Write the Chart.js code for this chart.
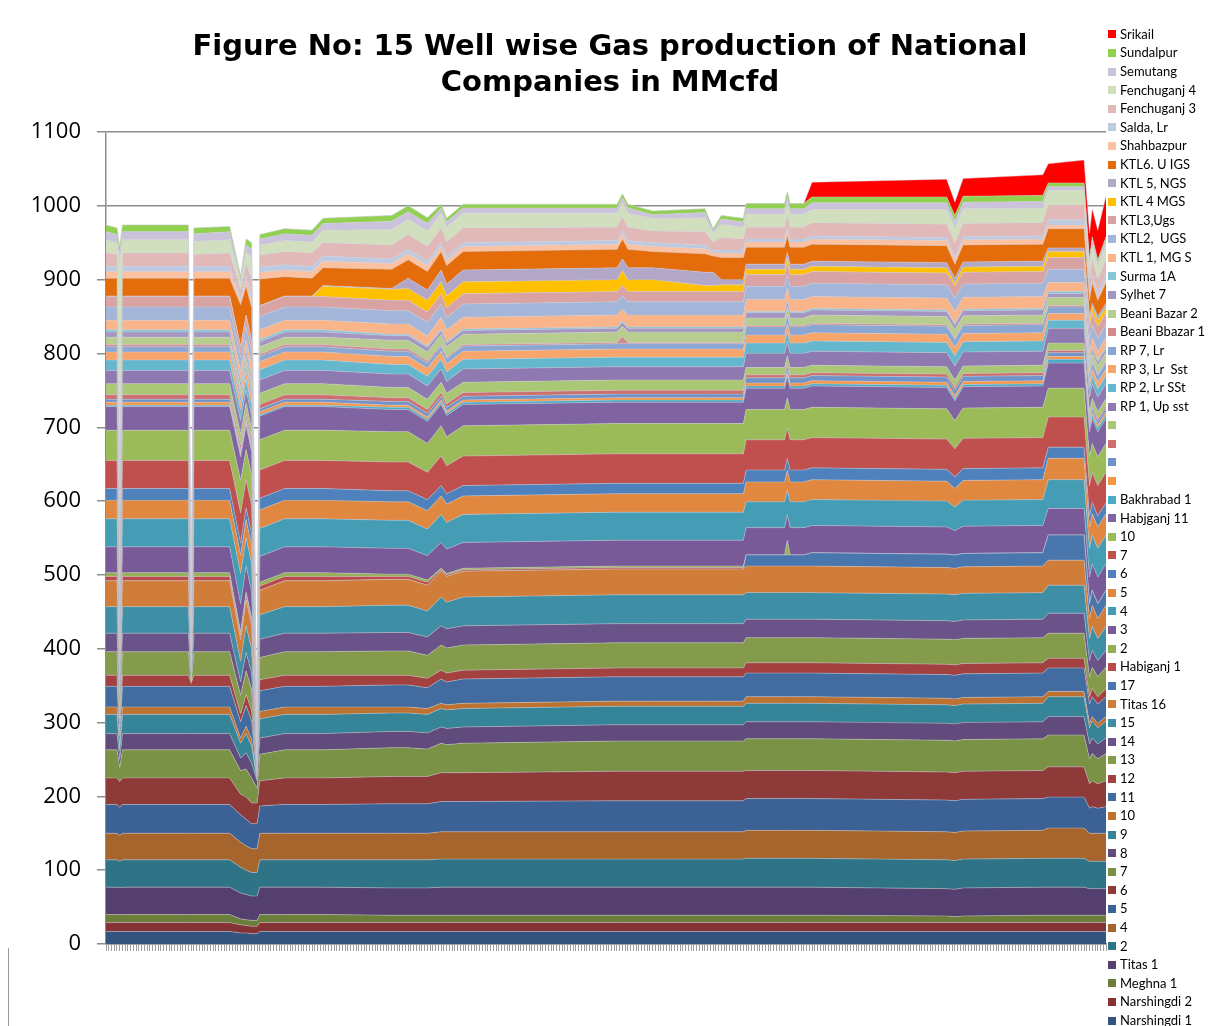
<!DOCTYPE html>
<html>
<head>
<meta charset="utf-8">
<script src="https://cdn.jsdelivr.net/npm/chart.js@4.4.1/dist/chart.umd.min.js"></script>
<style>
html,body{margin:0;padding:0;background:#fff;overflow:hidden;}
#wrap{position:relative;width:1210px;height:1026px;overflow:hidden;background:#fff;}
#chart{position:absolute;left:0;top:0;}
#title{position:absolute;left:0;top:27px;width:1220px;text-align:center;font-family:"DejaVu Sans",Verdana,sans-serif;font-weight:bold;font-size:29px;line-height:36px;color:#000;}
#legend{position:absolute;left:1108px;top:24.7px;font-family:Lato,"Liberation Sans",sans-serif;font-size:13px;color:#000;}
.li{height:18.62px;line-height:18.62px;white-space:pre;}
.sw{display:inline-block;width:8px;height:8px;margin-right:4px;vertical-align:middle;position:relative;top:-1px;}
#frame{position:absolute;left:8px;top:948px;width:1px;height:78px;background:#9a9a9a;}
</style>
</head>
<body>
<div id="wrap">
<canvas id="chart" width="1210" height="1026"></canvas>
<div id="title">Figure No: 15 Well wise Gas production of National<br>Companies in MMcfd</div>
<div id="legend"></div>
<div id="frame"></div>
</div>
<script>
// Sample days (x positions along a 365-day axis)
const DAYS = [0,4,5,6,30,31,32,45,49,51,53,55,56,65,75,79,104,110,117,122,124,130,186,188,190,199,218,221,224,232,233,247,248,249,254,257,306,309,312,341,343,356,358,359,361,364];
const Y_TICKS = [0,100,200,300,400,500,600,700,800,900,1000,1100];

// Series names, stack order bottom -> top
const NAMES = ["Narshingdi 1","Narshingdi 2","Meghna 1","Titas 1","2","4","5","6","7","8","9","10","11","12","13","14","15","Titas 16","17","Habiganj 1","2","3","4","5","6","7","10","Habjganj 11","Bakhrabad 1","","","","","RP 1, Up sst","RP 2, Lr SSt","RP 3, Lr  Sst","RP 7, Lr","Beani Bbazar 1","Beani Bazar 2","Sylhet 7","Surma 1A","KTL 1, MG S","KTL2,  UGS","KTL3,Ugs","KTL 4 MGS","KTL 5, NGS","KTL6. U IGS","Shahbazpur","Salda, Lr","Fenchuganj 3","Fenchuganj 4","Semutang","Sundalpur","Srikail"];
const COLORS = ["#34547E","#853234","#6B7E3A","#553F6E","#2F7486","#A6652C","#3C6195","#8E3A39","#7A9245","#614A7C","#368497","#BE7231","#426C9F","#A24140","#849B4C","#6A5389","#3E8FA6","#D07D3A","#4A76AE","#B94C49","#93B055","#775A97","#449CB5","#E0883F","#4F81BD","#C0504D","#9BBB59","#8064A2","#4BACC6","#F79646","#7093CA","#CD6F6C","#AAC775","#8E79B0","#64B7CD","#F8A56B","#8AA6D3","#D18C8A","#B7CD8F","#A595C1","#86C4D7","#F9B489","#A3B6D9","#D8A3A2","#FFC000","#B3A7C8","#E46C0A","#FBC1A1","#BDCAE2","#E0B9B8","#D1DFBF","#CBC3DB","#92D050","#FF0000"];

// Values (MMcfd) per series at DAYS
const v01 = [17,17,17,17,17,17,17,17, 15,15,14,14,17, 17,17,17, 17,17,17, 17,17,17, 17,17,17,17,17,17,17,17, 17,17,17,17,17, 17,17,17,17,17, 17,17, 17,17,17,17];
const v02 = [12,12,12,12,12,12,12,12, 11,10,10,10,12, 12,12,12, 12,12,12, 12,12,12, 12,12,12,12,12,12,12,12, 12,12,12,12,12, 12,12,12,12,12, 12,12, 12,12,12,12];
const v03 = [11,11,11,11,11,11,11,11, 8,8,8,8,11, 11,11,11, 10,10,10, 10,10,10, 10,10,10,10,10,10,10,10, 10,10,10,10,10, 10,9,8,9,10, 10,10, 10,10,10,10];
const v04 = [37,37,36,37,37,37,37,37, 35,34,33,33,37, 37,37,37, 37,37,37, 38,38,38, 38,38,38,38,38,38,38,38, 38,38,38,38,38, 38,37,37,38,38, 38,38, 36,36,36,36];
const v05 = [37,37,36,37,37,37,37,37, 35,33,32,32,37, 37,37,37, 38,38,38, 38,38,38, 38,38,38,38,38,38,38,38, 39,39,39,39,39, 39,39,39,39,39, 39,39, 37,37,37,37];
const v06 = [36,36,35,36,36,36,36,36, 34,33,32,32,36, 36,36,36, 36,36,36, 37,37,37, 37,37,37,37,37,37,37,37, 38,38,38,38,38, 38,38,38,38,38, 41,41, 38,38,38,38];
const v07 = [39,39,38,39,39,39,39,39, 37,36,34,34,37, 39,39,39, 40,40,40, 41,41,41, 42,42,42,42,42,42,42,42, 43,43,43,43,43, 43,43,43,43,43, 42,42, 34,36,34,36];
const v08 = [36,36,35,36,36,36,36,36, 28,30,28,28,34, 36,36,36, 37,37,37, 39,39,39, 40,40,40,40,40,40,40,40, 38,38,38,38,38, 38,38,38,38,38, 41,41, 33,35,33,35];
const v09 = [38,38,19,38,38,38,38,38, 32,38,34,20,36, 38,38,38, 39,39,37, 40,38,40, 41,41,41,41,41,41,41,41, 43,43,43,43,43, 43,43,43,43,43, 43,43, 34,37,34,37];
const v10 = [22,22,11,22,22,22,22,22, 17,22,20,10,22, 22,22,22, 22,22,22, 22,22,22, 22,22,22,22,22,22,22,22, 23,23,23,23,23, 23,23,23,23,23, 25,25, 20,21,20,21];
const v11 = [26,26,13,26,26,26,26,26, 20,26,23,0,26, 26,26,26, 25,25,25, 25,25,25, 25,25,25,25,25,25,25,25, 25,25,25,25,25, 25,25,25,25,25, 27,27, 22,23,22,23];
const v12 = [10,10,5,10,10,10,10,10, 7,10,9,0,10, 10,10,10, 8,8,8, 7,7,7, 7,7,7,7,7,7,7,7, 9,9,9,9,9, 9,9,9,9,9, 7,7, 6,6,6,6];
const v13 = [28,28,14,28,28,28,28,28, 22,28,25,0,28, 28,28,28, 30,30,28, 33,31,33, 33,33,33,33,33,33,33,33, 32,32,32,32,32, 32,32,32,32,32, 32,32, 26,27,26,27];
const v14 = [15,15,7,15,15,4,15,15, 11,15,14,0,15, 15,15,15, 13,13,13, 12,12,12, 12,12,12,12,12,12,12,12, 14,14,14,14,14, 14,14,14,14,14, 13,13, 10,11,10,11];
const v15 = [32,32,16,32,32,0,32,32, 25,32,29,0,30, 32,32,32, 33,33,31, 34,34,34, 34,34,34,34,34,34,34,34, 34,34,34,34,34, 34,34,34,34,34, 34,34, 27,29,27,29];
const v16 = [25,25,12,25,25,0,25,25, 18,25,22,0,25, 25,25,25, 25,25,25, 26,26,26, 26,26,26,26,26,26,26,26, 25,25,25,25,25, 25,25,25,25,25, 27,27, 22,23,22,23];
const v17 = [36,36,18,36,36,0,36,36, 28,36,32,0,33, 36,36,36, 37,37,35, 39,36,39, 39,39,39,39,39,39,39,39, 36,36,36,36,36, 36,36,36,36,36, 38,38, 30,32,30,32];
const v18 = [35,35,17,35,35,0,35,35, 29,35,32,0,33, 35,35,35, 35,35,35, 35,35,35, 35,35,35,35,35,35,35,35, 36,36,36,36,36, 36,36,36,36,36, 34,34, 27,29,27,29];
const v19 = [0,0,0,0,0,0,0,0, 0,0,0,0,0, 0,0,0, 0,0,0, 0,0,0, 0,0,0,0,0,0,0,0, 15,15,15,15,15, 18,18,18,18,18, 34,34, 20,20,20,20];
const v20 = [6,6,3,6,6,0,6,6, 6,6,6,0,6, 6,6,6, 4,4,4, 2,2,2, 2,2,2,2,2,2,2,2, 0,0,0,0,0, 0,0,0,0,0, 0,0, 0,0,0,0];
const v21 = [5,5,2,5,5,0,5,5, 5,5,5,0,5, 5,5,5, 3,3,3, 2,2,2, 2,2,2,2,2,2,2,2, 0,0,20,0,0, 0,0,0,0,0, 0,0, 0,0,0,0];
const v22 = [35,35,17,35,35,0,35,35, 38,35,35,0,35, 35,35,35, 35,35,33, 35,33,35, 35,35,35,35,35,35,35,35, 37,37,35,37,37, 37,37,33,37,37, 36,36, 36,36,36,36];
const v23 = [38,38,19,38,38,0,38,38, 41,38,38,0,38, 38,38,38, 38,38,36, 38,36,38, 38,38,38,38,38,38,38,38, 35,35,33,35,35, 35,35,32,35,35, 39,39, 39,39,39,39];
const v24 = [25,25,12,25,25,0,25,25, 25,25,25,0,25, 25,25,25, 25,25,25, 25,25,25, 25,25,25,25,25,25,25,25, 27,27,27,27,27, 27,27,25,27,27, 29,29, 29,29,29,29];
const v25 = [16,16,8,16,16,0,16,16, 16,16,16,0,16, 16,16,16, 15,15,15, 14,14,14, 14,14,14,14,14,14,14,14, 16,16,16,16,16, 16,16,16,16,16, 15,15, 15,15,15,15];
const v26 = [38,38,19,38,38,0,38,38, 41,38,38,0,38, 38,38,38, 39,39,37, 40,38,40, 40,40,40,40,40,40,40,40, 41,41,41,41,41, 41,41,38,41,41, 41,41, 41,41,41,41];
const v27 = [41,41,20,41,41,0,41,41, 44,41,41,0,41, 41,41,41, 41,41,39, 41,39,41, 41,41,41,41,41,41,41,41, 41,41,41,41,41, 41,41,38,41,41, 39,39, 39,39,39,39];
const v28 = [32,32,16,32,32,0,32,32, 32,32,32,0,32, 32,32,32, 30,30,30, 29,29,29, 29,29,29,29,29,29,29,29, 29,29,29,29,29, 29,29,27,29,29, 34,34, 34,34,34,34];
const v29 = [2,2,1,2,2,0,2,2, 2,2,2,0,2, 2,2,2, 3,3,3, 3,3,3, 3,3,3,3,3,3,3,3, 3,3,3,3,3, 3,3,3,3,3, 5,5, 5,5,5,5];
const v30 = [4,4,2,4,4,0,4,4, 4,4,4,0,4, 4,4,4, 3,3,3, 3,3,3, 3,3,3,3,3,3,3,3, 4,4,4,4,4, 4,4,4,4,4, 4,4, 4,4,4,4];
const v31 = [4,4,2,4,4,0,4,4, 4,4,4,0,4, 4,4,4, 5,5,5, 5,5,5, 5,5,5,5,5,5,5,5, 7,7,7,7,7, 7,7,7,7,7, 5,5, 5,5,5,5];
const v32 = [6,6,3,6,6,0,6,6, 6,6,6,0,6, 6,6,6, 5,5,5, 5,5,5, 5,5,5,5,5,5,5,5, 4,4,4,4,4, 4,4,4,4,4, 3,3, 3,3,3,3];
const v33 = [15,15,7,15,15,0,15,15, 15,15,15,0,15, 15,15,15, 14,14,14, 14,14,14, 14,14,14,14,14,14,14,14, 10,10,10,10,10, 10,10,10,10,10, 10,10, 10,10,10,10];
const v34 = [18,18,9,18,18,0,18,18, 18,18,18,0,18, 18,18,18, 18,18,18, 18,16,18, 18,18,18,18,18,18,18,18, 19,19,19,19,19, 19,19,19,19,19, 20,20, 20,20,20,20];
const v35 = [14,14,7,14,14,0,14,14, 14,14,14,0,14, 14,14,14, 13,13,13, 13,13,13, 13,13,13,13,13,13,13,13, 14,14,14,14,14, 14,14,14,14,14, 11,11, 11,11,11,11];
const v36 = [11,11,5,11,11,0,11,11, 11,11,11,0,11, 11,11,11, 11,11,11, 11,11,11, 11,11,11,11,11,11,11,11, 11,11,11,11,11, 11,11,11,11,11, 9,9, 9,9,9,9];
const v37 = [7,7,3,7,7,0,7,7, 7,7,7,0,7, 7,7,7, 7,7,7, 7,7,7, 7,7,7,7,7,7,7,7, 11,11,11,11,11, 11,11,11,11,11, 9,9, 9,9,9,9];
const v38 = [3,3,1,3,3,0,3,3, 3,3,3,0,3, 3,3,3, 3,3,3, 2,2,2, 2,10,2,2,2,2,2,2, 2,2,2,2,2, 2,2,2,2,2, 2,2, 2,2,2,2];
const v39 = [10,10,5,10,10,0,10,10, 10,10,10,0,10, 10,10,10, 12,12,12, 14,14,14, 14,14,14,14,14,14,14,14, 10,10,10,10,10, 11,11,11,11,11, 11,11, 11,11,11,11];
const v40 = [7,7,3,7,7,0,7,7, 7,7,7,0,7, 7,7,7, 6,6,6, 5,5,5, 5,5,5,5,5,5,5,5, 7,7,7,7,7, 7,7,7,7,7, 5,5, 5,5,5,5];
const v41 = [3,3,1,3,3,0,3,3, 3,3,3,0,3, 3,3,3, 2,2,2, 2,2,2, 2,2,2,2,2,2,2,2, 2,2,2,2,2, 2,2,2,2,2, 3,3, 3,3,3,3];
const v42 = [13,13,6,13,13,0,13,13, 13,13,13,0,13, 13,13,13, 14,14,14, 16,16,16, 16,16,16,16,16,16,16,16, 16,16,16,16,16, 16,16,16,16,16, 12,12, 12,12,12,12];
const v43 = [18,18,9,18,18,0,18,18, 18,18,18,0,18, 18,18,18, 18,18,18, 18,16,18, 18,18,18,18,18,18,18,18, 18,18,18,18,18, 18,18,18,18,18, 18,18, 18,18,18,18];
const v44 = [14,14,7,14,14,0,14,14, 14,14,14,0,14, 14,14,14, 14,14,14, 14,14,14, 14,14,14,14,14,14,14,14, 16,16,16,16,16, 16,16,16,16,16, 16,16, 16,16,16,16];
const v45 = [0,0,0,0,0,0,0,0, 0,0,0,0,0, 0,0,14, 15,16,16, 16,16,16, 16,20,16,16,8,8,9,9, 7,7,7,7,7, 7,7,4,7,7, 8,8, 8,8,8,8];
const v46 = [1,1,0,1,1,0,1,1, 1,1,1,0,1, 1,1,1, 1,14,14, 16,16,16, 16,16,16,16,18,18,7,7, 7,7,7,7,7, 7,7,7,7,7, 5,5, 5,5,5,5];
const v47 = [24,24,12,24,24,0,24,24, 56,39,45,0,36, 26,24,24, 26,25,25, 25,25,25, 25,27,25,22,25,22,30,30, 23,23,23,23,23, 23,23,19,23,23, 26,26, 22,28,22,28];
const v48 = [9,9,4,9,9,0,9,9, 6,9,9,0,9, 9,9,9, 8,8,8, 7,7,7, 7,7,7,7,7,4,6,6, 7,7,7,7,7, 7,7,7,7,7, 5,5, 4,5,4,5];
const v49 = [7,7,3,7,7,0,7,7, 4,7,7,0,7, 7,7,7, 6,6,6, 5,5,5, 5,5,5,5,5,3,4,4, 4,4,4,4,4, 4,4,4,4,4, 7,7, 6,7,6,7];
const v50 = [18,16,9,18,18,0,16,18, 10,15,22,0,16, 18,18,18, 19,20,20, 20,20,20, 18,18,18,16,18,12,17,15, 16,16,16,16,16, 18,18,18,18,18, 20,20, 18,20,18,20];
const v51 = [18,16,358,18,18,0,18,18, 10,15,30,0,14, 15,15,17, 21,21,21, 20,20,20, 19,19,19,17,19,12,18,16, 18,18,18,18,18, 18,20,20,20,20, 20,20, 18,20,18,20];
const v52 = [11,11,11,11,11,0,10,11, 5,10,11,0,8, 9,9,9, 11,10,10, 7,7,7, 7,7,7,5,7,3,7,7, 7,7,7,7,7, 9,9,9,9,9, 5,5, 5,5,5,5];
const v53 = [9,9,9,9,9,0,8,7, 4,8,9,0,6, 7,7,7, 8,8,8, 5,5,5, 5,5,5,5,5,3,5,5, 7,7,7,7,7, 8,8,8,8,8, 5,5, 4,5,4,5];
const v54 = [0,0,0,0,0,0,0,0, 0,0,0,0,0, 0,0,0, 0,0,0, 0,0,0, 0,0,0,0,0,0,0,0, 0,0,0,0,0, 20,24,18,24,28, 26,31, 36,38,40,55];

const SERIES = [v01,v02,v03,v04,v05,v06,v07,v08,v09,v10,v11,v12,v13,v14,v15,v16,v17,v18,v19,v20,v21,v22,v23,v24,v25,v26,v27,v28,v29,v30,v31,v32,v33,v34,v35,v36,v37,v38,v39,v40,v41,v42,v43,v44,v45,v46,v47,v48,v49,v50,v51,v52,v53,v54];

const datasets = SERIES.map((vals, i) => ({
  label: NAMES[i] || ' ',
  data: vals.map((y, j) => ({x: DAYS[j], y: y})),
  backgroundColor: COLORS[i],
  borderColor: 'rgba(205,205,215,0.55)',
  borderWidth: 0.8,
  fill: i === 0 ? 'origin' : '-1',
  pointRadius: 0,
  tension: 0
}));

new Chart(document.getElementById('chart').getContext('2d'), {
  type: 'line',
  data: {datasets: datasets},
  options: {
    responsive: false,
    animation: false,
    devicePixelRatio: 1,
    layout: {padding: {top: 132, right: 104, bottom: 75, left: 0}},
    plugins: {legend: {display: false}, title: {display: false}, tooltip: {enabled: false}},
    scales: {
      x: {
        type: 'linear', min: 0, max: 364,
        ticks: {display: false, stepSize: 1, autoSkip: false},
        grid: {drawOnChartArea: false, drawTicks: true, tickLength: 7, color: '#a0a0a0', lineWidth: 1},
        border: {color: '#868686', width: 1.5}
      },
      y: {
        stacked: true, min: 0, max: 1100,
        afterBuildTicks: (s) => { s.ticks = Y_TICKS.map(v => ({value: v})); },
        ticks: {font: {family: 'Open Sans', size: 22}, color: '#000', padding: 16, callback: (v) => String(v)},
        grid: {color: '#8c8c8c', lineWidth: 1.5, tickLength: 9},
        border: {color: '#8c8c8c', width: 1.5},
        afterFit: (s) => { s.width = 106; }
      }
    }
  }
});

// HTML legend (top of stack first)
const leg = document.getElementById('legend');
for (let i = NAMES.length - 1; i >= 0; i--) {
  const row = document.createElement('div');
  row.className = 'li';
  const sw = document.createElement('span');
  sw.className = 'sw';
  sw.style.background = COLORS[i];
  const tx = document.createElement('span');
  tx.textContent = NAMES[i];
  row.appendChild(sw);
  row.appendChild(tx);
  leg.appendChild(row);
}
</script>
</body>
</html>
